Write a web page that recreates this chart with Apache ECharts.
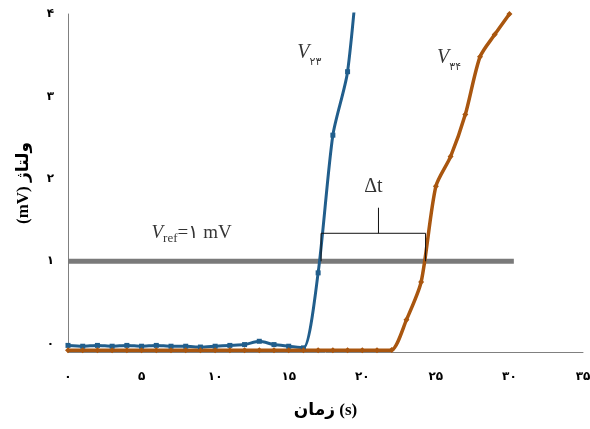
<!DOCTYPE html>
<html>
<head>
<meta charset="utf-8">
<script src="https://cdn.jsdelivr.net/npm/echarts@6/dist/echarts.min.js"></script>
<style>
html,body{margin:0;padding:0;background:#fff;}
#c{width:590px;height:429px;}
</style>
</head>
<body>
<div id="c"></div>
<script>
// ---- data ----
var timeS = [0,1,2,3,4,5,6,7,8,9,10,11,12,13,14,15,16,17,18,19,20,21,22,23,24,25,26,27,28,29,30];
var v23 = [-0.02,-0.03,-0.02,-0.03,-0.02,-0.03,-0.02,-0.03,-0.03,-0.04,-0.03,-0.02,-0.01,0.03,-0.01,-0.03,-0.05,0.86,2.53,3.30,5.2];
var v34 = [-0.08,-0.08,-0.08,-0.08,-0.08,-0.08,-0.08,-0.08,-0.08,-0.08,-0.08,-0.08,-0.08,-0.08,-0.08,-0.08,-0.08,-0.08,-0.08,-0.08,-0.08,-0.08,-0.075,0.29,0.75,1.91,2.27,2.78,3.48,3.75,4.0];
var vrefX = [0, 30.3];
var vrefY = [1, 1];
var bracketX = [17.2, 17.2, 24.3, 24.3];
var bracketY = [1, 1.34, 1.34, 1];
var stemX = [21.1, 21.1];
var stemY = [1.34, 1.65];
var xTicks = [0,5,10,15,20,25,30,35];
var yTicks = [0,1,2,3,4];
var labelV23 = {x:16.4, y:3.5, sub:'۲۳'};
var labelV34 = {x:25.9, y:3.44, sub:'۳۴'};
var labelRef = {x:8.4, y:1.33};
var labelDt = {x:20.76, y:1.9, text:'Δt'};

function fa(n){ return String(n).replace(/\d/g, function(d){ return '۰۱۲۳۴۵۶۷۸۹'[+d]; }); }
function pairs(xs, ys){ var out=[]; for (var i=0;i<ys.length && i<xs.length;i++) out.push([xs[i], ys[i]]); return out; }

var BLUE = '#215e8c', ORANGE = '#a9560f', GREY = '#7a7a7a';
var serif = "'Liberation Serif', 'DejaVu Serif', 'DejaVu Sans', serif";

function vLabel(pt, sub){
  return {
    type:'scatter', silent:true, symbolSize:0, z:10,
    data:[[pt.x, pt.y]],
    label:{show:true, position:'inside', formatter:'{v|V}{s|'+sub+'}',
      rich:{
        v:{fontFamily:serif, fontStyle:'italic', fontSize:20, color:'#000', verticalAlign:'bottom', padding:[0,0,4,0]},
        s:{fontFamily:"'DejaVu Sans', sans-serif", fontSize:11, color:'#000', verticalAlign:'bottom'}
      }}
  };
}

var chart = echarts.init(document.getElementById('c'), null, {renderer:'canvas'});
chart.setOption({
  animation:false,
  backgroundColor:'#fff',
  grid:{left:68, right:7, top:14, bottom:77, outerBoundsMode:'none'},
  xAxis:{
    type:'value', min:0, max:35, interval:5,
    name:'زمان (s)', nameLocation:'middle', nameGap:50,
    nameTextStyle:{fontFamily:serif, fontWeight:'bold', fontSize:17, color:'#000'},
    axisLine:{show:true, onZero:false, lineStyle:{color:'#808080', width:1}},
    axisTick:{show:false},
    splitLine:{show:false},
    axisLabel:{margin:19, fontFamily:"'DejaVu Sans', sans-serif", fontWeight:'bold', fontSize:12, color:'#000',
      formatter:function(v){ return xTicks.indexOf(v) >= 0 ? fa(v) : ''; }}
  },
  yAxis:{
    type:'value', min:-0.1, max:4, interval:0.1,
    name:'(mV) ولتاژ', nameLocation:'middle', nameGap:36, nameRotate:90,
    nameTextStyle:{fontFamily:serif, fontWeight:'bold', fontSize:17, color:'#000'},
    axisLine:{show:true, onZero:false, lineStyle:{color:'#808080', width:1}},
    axisTick:{show:false},
    splitLine:{show:false},
    axisLabel:{margin:14, interval:0, fontFamily:"'DejaVu Sans', sans-serif", fontWeight:'bold', fontSize:12, color:'#000',
      formatter:function(v){ var r=Math.round(v); return (Math.abs(v-r)<1e-6 && yTicks.indexOf(r)>=0) ? fa(r) : ''; }}
  },
  series:[
    {type:'line', name:'Vref', data:pairs(vrefX, vrefY), showSymbol:false, symbol:'none', silent:true, z:1,
     lineStyle:{color:GREY, width:5}},
    {type:'line', name:'V23', data:pairs(timeS, v23), smooth:0.25, symbol:'rect', symbolSize:5, z:3,
     itemStyle:{color:BLUE}, lineStyle:{color:BLUE, width:3}},
    {type:'line', name:'V34', data:pairs(timeS, v34), smooth:0.25, symbol:'diamond', symbolSize:6, z:3,
     itemStyle:{color:ORANGE}, lineStyle:{color:ORANGE, width:3.5}},
    {type:'line', data:pairs(bracketX, bracketY), symbol:'none', silent:true, z:4,
     lineStyle:{color:'#111', width:1}},
    {type:'line', data:pairs(stemX, stemY), symbol:'none', silent:true, z:4,
     lineStyle:{color:'#111', width:1}},
    vLabel(labelV23, labelV23.sub),
    vLabel(labelV34, labelV34.sub),
    {type:'scatter', silent:true, symbolSize:0, z:10, data:[[labelRef.x, labelRef.y]],
     label:{show:true, position:'inside', formatter:'{v|V}{s|ref}{t|=۱ mV}',
       rich:{
         v:{fontFamily:serif, fontStyle:'italic', fontSize:19, color:'#000', verticalAlign:'bottom', padding:[0,0,3,0]},
         s:{fontFamily:serif, fontSize:13, color:'#000', verticalAlign:'bottom'},
         t:{fontFamily:serif, fontSize:19, color:'#000', verticalAlign:'bottom', padding:[0,0,3,0]}
       }}},
    {type:'scatter', silent:true, symbolSize:0, z:10, data:[[labelDt.x, labelDt.y]],
     label:{show:true, position:'inside', formatter:labelDt.text, fontFamily:serif, fontSize:20, color:'#000'}}
  ]
});
</script>
</body>
</html>
